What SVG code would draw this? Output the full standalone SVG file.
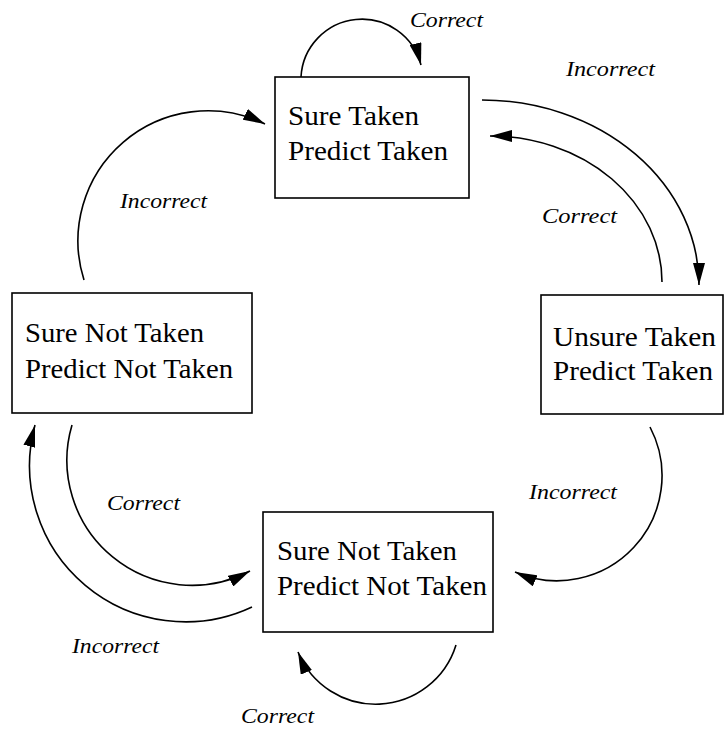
<svg xmlns="http://www.w3.org/2000/svg" width="725" height="731" viewBox="0 0 725 731">
<style>
.box{fill:#fff;stroke:#000;stroke-width:1.6}
.t{font-family:"Liberation Serif","Times New Roman",serif;font-size:27px;fill:#000}
.l{font-family:"Liberation Serif","Times New Roman",serif;font-size:22px;font-style:italic;fill:#000}
.c{fill:none;stroke:#000;stroke-width:1.6;marker-end:url(#ah)}
</style>
<defs>
<marker id="ah" markerUnits="userSpaceOnUse" markerWidth="22" markerHeight="12" refX="22" refY="6" orient="auto">
<path d="M0,0 L22,6 L0,12 Z" fill="#000"/>
</marker>
</defs>
<rect width="725" height="731" fill="#fff"/>
<g id="connectors">
<path class="c" d="M301,77 A61,61 0 0 1 421,65"/>
<path class="c" d="M482,100 A217,185 0 0 1 699,285"/>
<path class="c" d="M662,282 A172,146 0 0 0 490,136"/>
<path class="c" d="M84,280 A130,130 0 0 1 265,124"/>
<path class="c" d="M72,425 A125,125 0 0 0 250,571"/>
<path class="c" d="M252,607 A156,156 0 0 1 35,425"/>
<path class="c" d="M456,645 A84,84 0 0 1 298,652"/>
<path class="c" d="M650,427 A105,105 0 0 1 515,572"/>
<text class="l" x="410" y="27" textLength="73" lengthAdjust="spacingAndGlyphs">Correct</text>
<text class="l" x="566" y="76" textLength="89" lengthAdjust="spacingAndGlyphs">Incorrect</text>
<text class="l" x="542" y="223" textLength="75" lengthAdjust="spacingAndGlyphs">Correct</text>
<text class="l" x="120" y="208" textLength="87" lengthAdjust="spacingAndGlyphs">Incorrect</text>
<text class="l" x="107" y="510" textLength="73" lengthAdjust="spacingAndGlyphs">Correct</text>
<text class="l" x="72" y="653" textLength="87" lengthAdjust="spacingAndGlyphs">Incorrect</text>
<text class="l" x="241" y="723" textLength="73" lengthAdjust="spacingAndGlyphs">Correct</text>
<text class="l" x="529" y="499" textLength="88" lengthAdjust="spacingAndGlyphs">Incorrect</text>
</g>
<g id="sure-taken">
<rect class="box" x="275" y="77" width="194" height="121"/>
<text class="t" x="288" y="125" textLength="131" lengthAdjust="spacingAndGlyphs">Sure Taken</text>
<text class="t" x="288" y="160" textLength="160" lengthAdjust="spacingAndGlyphs">Predict Taken</text>
</g>
<g id="unsure-taken">
<rect class="box" x="541" y="295" width="182" height="119"/>
<text class="t" x="553" y="346" textLength="163" lengthAdjust="spacingAndGlyphs">Unsure Taken</text>
<text class="t" x="553" y="380" textLength="160" lengthAdjust="spacingAndGlyphs">Predict Taken</text>
</g>
<g id="sure-not-taken-left">
<rect class="box" x="12" y="293" width="240" height="120"/>
<text class="t" x="25" y="342" textLength="179" lengthAdjust="spacingAndGlyphs">Sure Not Taken</text>
<text class="t" x="25" y="378" textLength="208" lengthAdjust="spacingAndGlyphs">Predict Not Taken</text>
</g>
<g id="sure-not-taken-bottom">
<rect class="box" x="263" y="512" width="230" height="120"/>
<text class="t" x="277" y="560" textLength="180" lengthAdjust="spacingAndGlyphs">Sure Not Taken</text>
<text class="t" x="277" y="595" textLength="210" lengthAdjust="spacingAndGlyphs">Predict Not Taken</text>
</g>
</svg>
